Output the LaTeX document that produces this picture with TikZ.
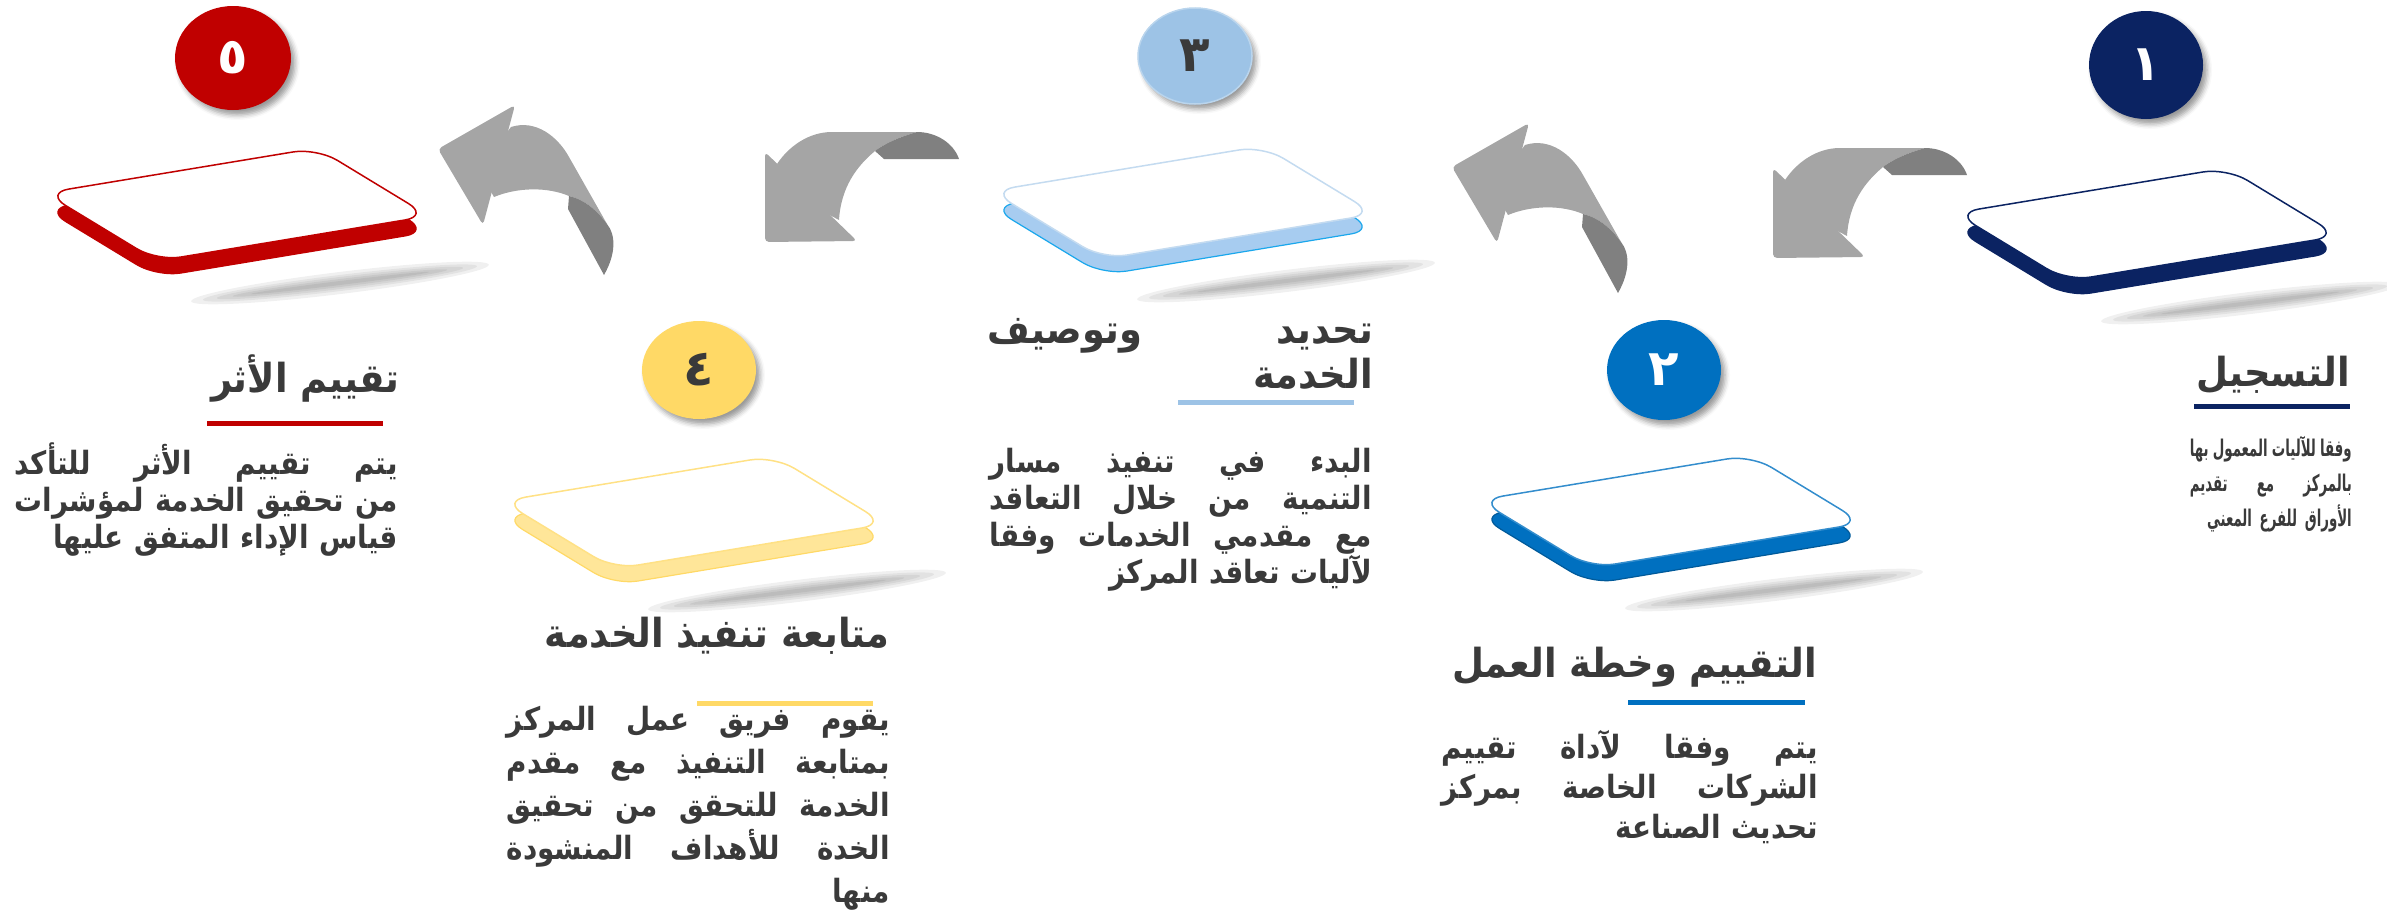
\documentclass[tikz,border=0pt]{standalone}
\usepackage{fontspec}
\TeXXeTstate=1
\newfontfamily\arabT[Script=Arabic,FakeStretch=0.92]{DejaVu Sans}
\newfontfamily\arabB[Script=Arabic,FakeStretch=0.87]{DejaVu Sans}
\newfontfamily\arabN[Script=Arabic,FakeStretch=0.58]{DejaVu Sans}
\newfontfamily\arab[Script=Arabic]{DejaVu Sans}
\usetikzlibrary{shapes.geometric,shadows.blur}
\definecolor{navy}{HTML}{0B2362}
\definecolor{blu}{HTML}{0070C0}
\definecolor{lblu}{HTML}{9DC3E6}
\definecolor{lbluB}{HTML}{A7CCF0}
\definecolor{cyanE}{HTML}{1AA7EC}
\definecolor{ylw}{HTML}{FFD966}
\definecolor{ylwB}{HTML}{FFE699}
\definecolor{rd}{HTML}{C00000}
\definecolor{txt}{HTML}{3A3A3A}
\definecolor{agl}{HTML}{A5A5A5}
\definecolor{agd}{HTML}{808080}
\newcommand\J[2]{\noindent\hbox to #1{\beginR #2\endR}}
\newcommand\R[1]{\beginR #1\endR}
\newcommand\plate[5]{%
 \begin{scope}[shift={(#1,#2)}]
  \foreach \a/\b in {150/11,138/8,124/6,108/4,90/2}
   \fill[black,opacity=0.06,rotate around={7:(295,90)}] (295,90) ellipse [x radius=\a pt, y radius=\b pt];
  \filldraw[fill=#3, draw=#4, line width=1.2pt, rounded corners=24pt] (0,16) -- (272,-29) -- (384,39) -- (112,84) -- cycle;
  \filldraw[fill=white, draw=#5, line width=1.5pt, rounded corners=24pt] (0,0) -- (272,-45) -- (384,23) -- (112,68) -- cycle;
 \end{scope}}
\tikzset{
 num/.style={ellipse, inner sep=0pt, text=white,
   font=\arab\bfseries\fontsize{50}{50}\selectfont,
   blur shadow={shadow xshift=4pt, shadow yshift=-5pt, shadow blur radius=5pt, shadow opacity=40}},
 ttl/.style={anchor=base east, inner sep=0pt, text=txt, font=\arabT\bfseries\fontsize{40}{45}\selectfont},
 body/.style={anchor=base east, inner sep=0pt, align=right, text=txt},
 uline/.style={line width=5pt},
 arrA/.pic={
  \fill[agl, rounded corners=4pt] (0,0) -- (0,90) -- (92,89) -- cycle;
  \fill[agl] (12,12) .. controls (24,-6) and (44,-20) .. (67,-20) -- (152,-20)
     .. controls (134,-15) and (119,-8) .. (110,-1)
     .. controls (92,14) and (76,35) .. (74,68) -- (40,50) -- cycle;
  \fill[agd] (110,-1) .. controls (119,-8) and (134,-15) .. (152,-20)
     .. controls (172,-20) and (189,-8) .. (194,7) -- (119,7) -- cycle;
 },
 arrB/.pic={
  \fill[agl, rounded corners=4pt] (0,0) -- (77,-44) -- (45,76) -- cycle;
  \fill[agl] (73,-22) .. controls (98,-30) and (120,-12) .. (131,8) -- (169,75)
     .. controls (158,60) and (145,50) .. (131,47)
     .. controls (110,38) and (80,38) .. (56,48) -- (40,20) -- cycle;
  \fill[agd] (131,47) -- (130,60) -- (166,126) .. controls (178,105) and (178,86) .. (169,75)
     .. controls (158,60) and (145,50) .. (131,47) -- cycle;
 },
}
\begin{document}
\begin{tikzpicture}[x=1pt,y=-1pt]
\useasboundingbox (0,0) rectangle (2387,918);
% plates
\plate{1955}{213}{navy}{navy}{navy}
\plate{1479}{500}{blu}{blu!80!black}{blu!80}
\plate{991}{191}{lbluB}{cyanE}{lblu!60}
\plate{502}{501}{ylwB}{ylw}{ylw!80}
\plate{45}{193}{rd}{rd}{rd}
% arrows
\pic at (1773,168) {arrA};
\pic at (765,152) {arrA};
\pic at (1452,167) {arrB};
\pic at (438,149) {arrB};
% number circles
\node[num, fill=navy, minimum width=114pt, minimum height=108pt] (c1) at (2146,65) {١};
\node[num, fill=blu, minimum width=114pt, minimum height=100pt] (c2) at (1664,370) {٢};
\node[num, fill=lblu, draw=lblu!70!white, line width=1.5pt, text=txt, minimum width=114pt, minimum height=96pt] (c3) at (1195,56) {٣};
\node[num, fill=ylw, text=txt, minimum width=114pt, minimum height=98pt] (c4) at (699,370) {٤};
\node[num, fill=rd, minimum width=116pt, minimum height=104pt] (c5) at (233,58) {٥};
% step 1
\node[ttl] (t1) at (2350,386) {\R{التسجيل}};
\draw[uline, navy] (2194,406) -- (2350,406);
\node[body, text width=162pt, font=\arabN\bfseries\fontsize{23}{35}\selectfont] (b1) at (2352,456) {%
 \J{162pt}{وفقا\hfill للآليات\hfill المعمول\hfill بها}\\
 \J{162pt}{بالمركز\hfill مع\hfill تقديم}\\
 \R{الأوراق للفرع المعني}};
% step 2
\node[ttl] (t2) at (1817,677) {\R{التقييم وخطة العمل}};
\draw[uline, blu] (1628,702) -- (1805,702);
\node[body, text width=376pt, font=\arabB\bfseries\fontsize{32}{40}\selectfont] (b2) at (1818,758) {%
 \J{376pt}{يتم\hfill وفقا\hfill لآداة\hfill تقييم}\\
 \J{376pt}{الشركات\hfill الخاصة\hfill بمركز}\\
 \R{تحديث الصناعة}};
% step 3
\node[ttl, align=right, text width=385pt] (t3) at (1373,343) {%
 \J{385pt}{تحديد\hfill وتوصيف}\\
 \R{الخدمة}};
\draw[uline, lblu] (1178,402) -- (1354,402);
\node[body, text width=382pt, font=\arabB\bfseries\fontsize{32}{37}\selectfont] (b3) at (1372,472) {%
 \J{382pt}{البدء\hfill في\hfill تنفيذ\hfill مسار}\\
 \J{382pt}{التنمية\hfill من\hfill خلال\hfill التعاقد}\\
 \J{382pt}{مع\hfill مقدمي\hfill الخدمات\hfill وفقا}\\
 \R{لآليات تعاقد المركز}};
% step 4
\node[ttl] (t4) at (890,647) {\R{متابعة تنفيذ الخدمة}};
\draw[uline, ylw] (697,703) -- (873,703);
\node[body, text width=383pt, font=\arabB\bfseries\fontsize{32}{43}\selectfont] (b4) at (890,730) {%
 \J{383pt}{يقوم\hfill فريق\hfill عمل\hfill المركز}\\
 \J{383pt}{بمتابعة\hfill التنفيذ\hfill مع\hfill مقدم}\\
 \J{383pt}{الخدمة\hfill للتحقق\hfill من\hfill تحقيق}\\
 \J{383pt}{الخدة\hfill للأهداف\hfill المنشودة}\\
 \R{منها}};
% step 5
\node[ttl] (t5) at (400,392) {\R{تقييم الأثر}};
\draw[uline, rd] (207,423) -- (383,423);
\node[body, text width=383pt, font=\arabB\bfseries\fontsize{32}{37}\selectfont] (b5) at (398,474) {%
 \J{383pt}{يتم\hfill تقييم\hfill الأثر\hfill للتأكد}\\
 \J{383pt}{من\hfill تحقيق\hfill الخدمة\hfill لمؤشرات}\\
 \R{قياس الإداء المتفق عليها}};
\end{tikzpicture}
\end{document}
